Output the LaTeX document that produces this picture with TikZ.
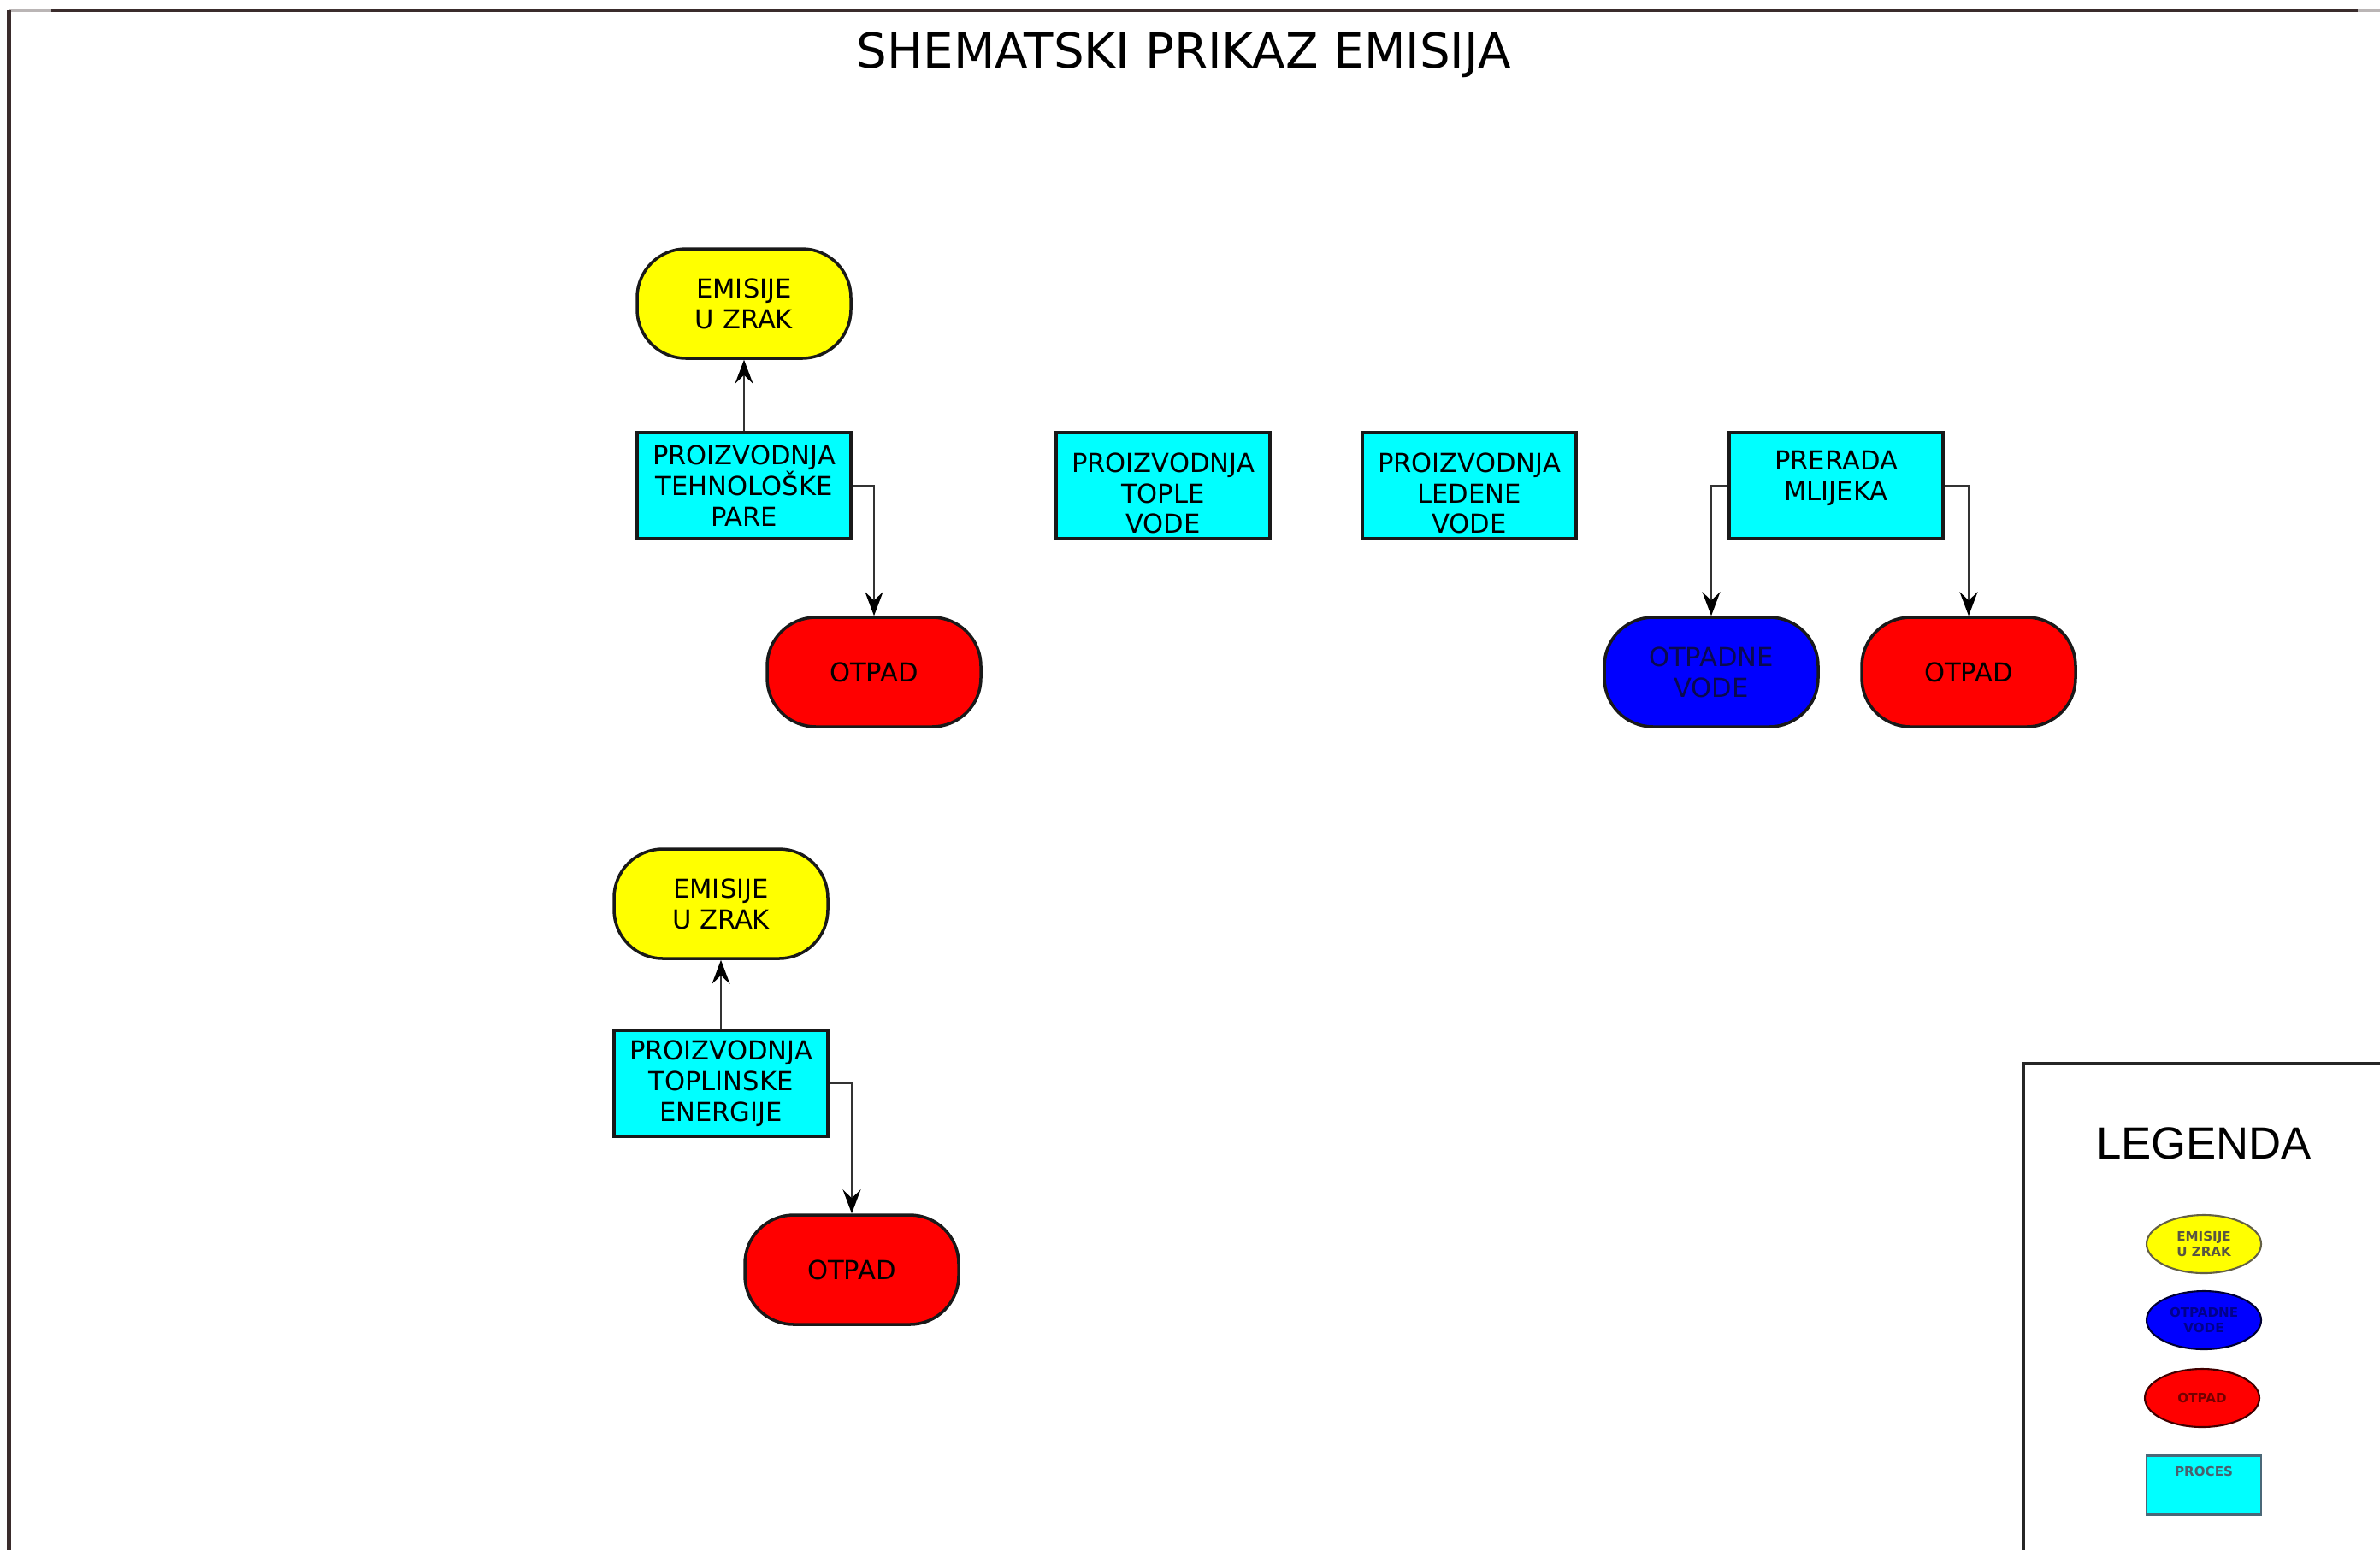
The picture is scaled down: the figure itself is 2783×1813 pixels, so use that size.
\documentclass[tikz,border=0pt]{standalone}
\usepackage{fontspec}
\usetikzlibrary{arrows.meta,shapes.geometric}
\newfontfamily\dejavu{DejaVu Sans}
\newfontfamily\liber{Liberation Sans}
\definecolor{pageline}{HTML}{3A2C2C}
\definecolor{procfill}{HTML}{00FFFF}
\definecolor{airfill}{HTML}{FFFF00}
\definecolor{wastefill}{HTML}{FF0000}
\definecolor{waterfill}{HTML}{0000FF}
\definecolor{watertext}{HTML}{0A0A50}
\newcommand{\nodefont}{\dejavu\fontsize{8.7pt}{10.2pt}\selectfont}
\newcommand{\keyfont}{\dejavu\bfseries\fontsize{4.3pt}{5.2pt}\selectfont}
\tikzset{
  box/.style={draw=black!90, line width=1pt, minimum width=25mm, inner sep=0pt,
    align=center, font=\nodefont, text=black},
  proc/.style={box, rectangle, fill=procfill, minimum height=12.4mm},
  proctext/.style={align=center, font=\nodefont, inner sep=0pt, text=black},
  pill/.style={box, rounded corners=5.7mm, minimum height=12.8mm},
  air/.style={pill, fill=airfill},
  waste/.style={pill, fill=wastefill},
  water/.style={pill, fill=waterfill, text=watertext},
  conn/.style={draw=black!80, line width=0.6pt,
    -{Stealth[length=2.8mm,width=2.1mm,inset=1mm,fill=black,color=black]}},
  keyshape/.style={minimum width=13.4mm, minimum height=6.8mm, inner sep=0pt,
    line width=0.6pt, align=center, font=\keyfont},
}
\begin{document}
\begin{tikzpicture}[x=0.1mm,y=-0.1mm]
  % canvas
  \fill[white] (0,0) rectangle (2783,1813);
  \useasboundingbox (0,0) rectangle (2783,1813);

  % sheet frame
  \draw[pageline!35, line width=0.45mm] (10,12) -- (60,12);
  \draw[pageline, line width=0.45mm] (60,12) -- (2757,12);
  \draw[pageline!35, line width=0.45mm] (2757,12) -- (2783,12);
  \draw[pageline, line width=0.5mm] (10,12) -- (10,1813);

  % title
  \node[anchor=base, inner sep=0pt, font=\dejavu\fontsize{16pt}{19pt}\selectfont]
    (title) at (1384,79) {SHEMATSKI PRIKAZ EMISIJA};

  % steam production
  \node[air]   (e1) at (870,355)  {EMISIJE\\U ZRAK};
  \node[proc]  (p1) at (870,568)  {PROIZVODNJA\\TEHNOLOŠKE\\PARE};
  \node[waste] (o1) at (1022,786) {OTPAD};

  % hot and chilled water
  \node[proc] (p2) at (1360,568) {};
  \node[proctext] (p2t) at ([yshift=-0.9mm]p2.center) {PROIZVODNJA\\TOPLE\\VODE};
  \node[proc] (p3) at (1718,568) {};
  \node[proctext] (p3t) at ([yshift=-0.9mm]p3.center) {PROIZVODNJA\\LEDENE\\VODE};

  % milk processing
  \node[proc]  (p4) at (2147,568) {};
  \node[proctext] (p4t) at ([yshift=0.9mm]p4.center) {PRERADA\\MLIJEKA};
  \node[water] (w1) at (2001,786) {OTPADNE\\VODE};
  \node[waste] (o2) at (2302,786) {OTPAD};

  % heat production
  \node[air]   (e2) at (843,1057) {EMISIJE\\U ZRAK};
  \node[proc]  (p5) at (843,1267) {PROIZVODNJA\\TOPLINSKE\\ENERGIJE};
  \node[waste] (o3) at (996,1485) {OTPAD};

  % flows
  \draw[conn] (p1.north) -- (e1.south);
  \draw[conn] (p1.east) -| (o1.north);
  \draw[conn] (p4.west) -| (w1.north);
  \draw[conn] (p4.east) -| (o2.north);
  \draw[conn] (p5.north) -- (e2.south);
  \draw[conn] (p5.east) -| (o3.north);

  % legend
  \draw[black!85, line width=0.4mm] (2783,1244) -| (2366,1813);
  \node[anchor=base, inner sep=0pt, font=\liber\fontsize{15pt}{18pt}\selectfont]
    (legtitle) at (2577,1355) {LEGENDA};
  \node[keyshape, ellipse, fill=airfill, draw=black!70!yellow, text=black!75!yellow]
    (kair) at (2577,1455) {EMISIJE\\U ZRAK};
  \node[keyshape, ellipse, fill=waterfill, draw=black!80!blue, text=black!45!blue]
    (kwater) at (2577,1544) {OTPADNE\\VODE};
  \node[keyshape, ellipse, fill=wastefill, draw=black!75!red, text=black!55!red]
    (kwaste) at (2575,1635) {OTPAD};
  \node[keyshape, rectangle, fill=procfill, draw=black!60!cyan, minimum height=6.9mm,
    label={[name=kproct, font=\keyfont, text=black!65!cyan, anchor=center, yshift=-2mm]north:PROCES}]
    (kproc) at (2577,1737) {};
\end{tikzpicture}
\end{document}
